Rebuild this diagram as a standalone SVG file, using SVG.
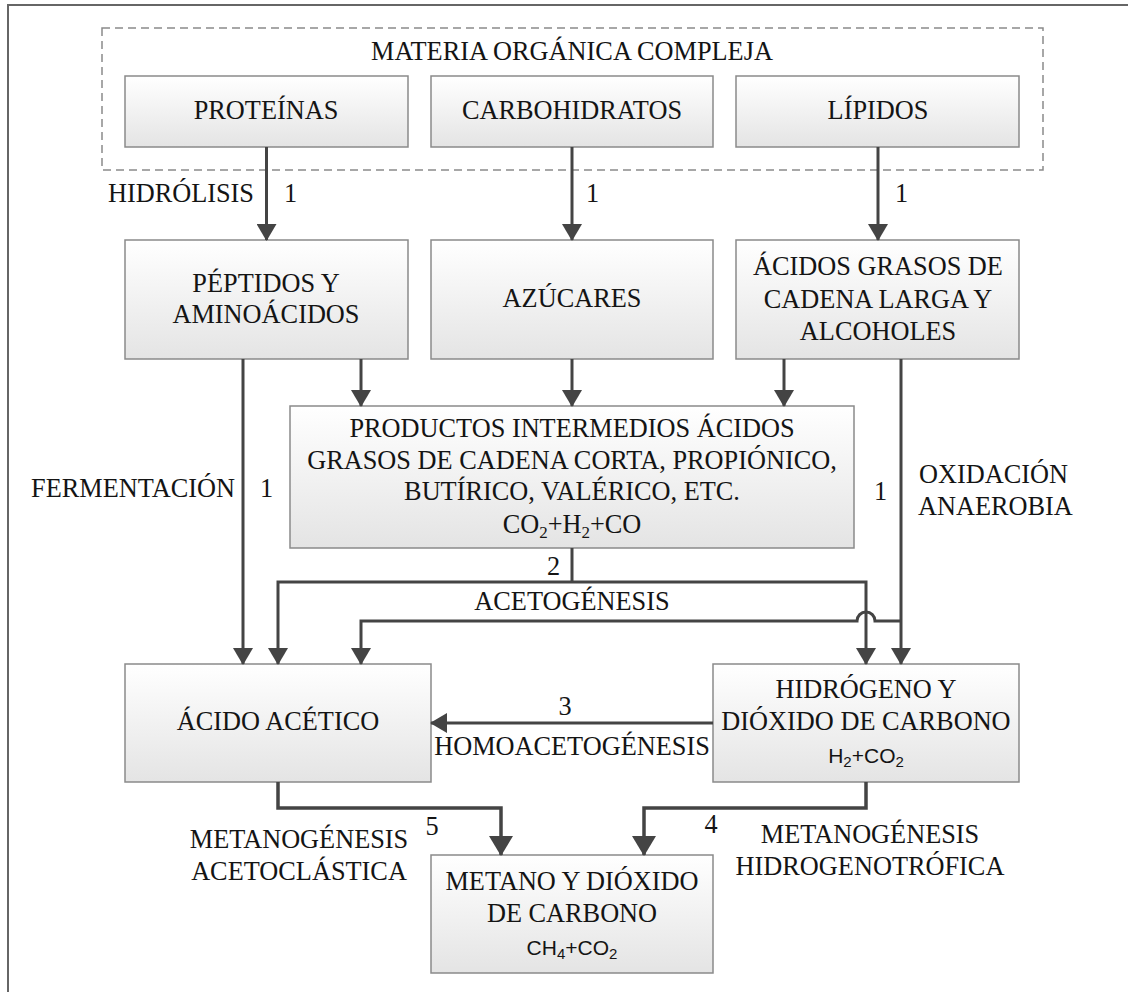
<svg xmlns="http://www.w3.org/2000/svg" width="1128" height="992" viewBox="0 0 1128 992">
  <defs>
    <linearGradient id="boxFill" x1="0" y1="0" x2="0" y2="1">
      <stop offset="0" stop-color="#ffffff"/>
      <stop offset="1" stop-color="#e4e4e4"/>
    </linearGradient>
    <marker id="ah" markerUnits="userSpaceOnUse" markerWidth="17" markerHeight="20" viewBox="0 0 17 20" refX="16" refY="10" orient="auto">
      <path d="M0,0 L17,10 L0,20 Z" fill="#444"/>
    </marker>
    <marker id="ahBig" markerUnits="userSpaceOnUse" markerWidth="20" markerHeight="24" viewBox="0 0 20 24" refX="19" refY="12" orient="auto">
      <path d="M0,0 L20,12 L0,24 Z" fill="#444"/>
    </marker>
    <style>
      .box { fill: url(#boxFill); stroke: #8a8a8a; stroke-width: 1.5; }
      .t { font-family: "Liberation Serif", "Times New Roman", serif; font-size: 26.3px; fill: #141414; }
      .c { text-anchor: middle; }
      .e { text-anchor: end; }
      .f { font-family: "Liberation Sans", Arial, sans-serif; font-size: 21px; fill: #141414; text-anchor: middle; }
      .w { fill: none; stroke: #444; stroke-width: 3; }
      .wb { fill: none; stroke: #444; stroke-width: 3.5; }
      .a { marker-end: url(#ah); }
      .ab { marker-end: url(#ahBig); }
    </style>
  </defs>

  <rect width="1128" height="992" fill="#ffffff"/>

  <!-- page frame -->
  <path d="M8,992 V5 H1128" fill="none" stroke="#666" stroke-width="2"/>

  <!-- group: complex organic matter -->
  <g id="materia-organica">
    <rect x="102" y="28" width="941" height="142" fill="none" stroke="#8a8a8a" stroke-width="1.5" stroke-dasharray="8,5"/>
    <text class="t c" x="572" y="60">MATERIA ORGÁNICA COMPLEJA</text>
  </g>

  <g id="proteinas">
    <rect class="box" x="125" y="76" width="283" height="71"/>
    <text class="t c" x="266" y="119">PROTEÍNAS</text>
  </g>
  <g id="carbohidratos">
    <rect class="box" x="431" y="76" width="282" height="71"/>
    <text class="t c" x="572" y="119">CARBOHIDRATOS</text>
  </g>
  <g id="lipidos">
    <rect class="box" x="736" y="76" width="283" height="71"/>
    <text class="t c" x="878" y="119">LÍPIDOS</text>
  </g>

  <g id="peptidos">
    <rect class="box" x="125" y="240" width="283" height="119"/>
    <text class="t c" x="266" y="292">PÉPTIDOS Y</text>
    <text class="t c" x="266" y="323">AMINOÁCIDOS</text>
  </g>
  <g id="azucares">
    <rect class="box" x="431" y="240" width="282" height="119"/>
    <text class="t c" x="572" y="307">AZÚCARES</text>
  </g>
  <g id="acidos-grasos">
    <rect class="box" x="736" y="240" width="283" height="119"/>
    <text class="t c" x="878" y="275">ÁCIDOS GRASOS DE</text>
    <text class="t c" x="878" y="308">CADENA LARGA Y</text>
    <text class="t c" x="878" y="340">ALCOHOLES</text>
  </g>

  <g id="productos-intermedios">
    <rect class="box" x="290" y="406" width="564" height="142"/>
    <text class="t c" x="572" y="437">PRODUCTOS INTERMEDIOS ÁCIDOS</text>
    <text class="t c" x="572" y="469">GRASOS DE CADENA CORTA, PROPIÓNICO,</text>
    <text class="t c" x="572" y="500">BUTÍRICO, VALÉRICO, ETC.</text>
    <text class="t c" x="572" y="533">CO<tspan font-size="17" dy="5">2</tspan><tspan dy="-5">+H</tspan><tspan font-size="17" dy="5">2</tspan><tspan dy="-5">+CO</tspan></text>
  </g>

  <g id="acido-acetico">
    <rect class="box" x="125" y="664" width="306" height="118"/>
    <text class="t c" x="278" y="730">ÁCIDO ACÉTICO</text>
  </g>
  <g id="hidrogeno">
    <rect class="box" x="713" y="664" width="306" height="118"/>
    <text class="t c" x="866" y="698">HIDRÓGENO Y</text>
    <text class="t c" x="866" y="730">DIÓXIDO DE CARBONO</text>
    <text class="f" x="866" y="763">H<tspan font-size="15" dy="4">2</tspan><tspan dy="-4">+CO</tspan><tspan font-size="15" dy="4">2</tspan></text>
  </g>
  <g id="metano">
    <rect class="box" x="431" y="855" width="282" height="118"/>
    <text class="t c" x="572" y="890">METANO Y DIÓXIDO</text>
    <text class="t c" x="572" y="922">DE CARBONO</text>
    <text class="f" x="572" y="955">CH<tspan font-size="15" dy="4">4</tspan><tspan dy="-4">+CO</tspan><tspan font-size="15" dy="4">2</tspan></text>
  </g>

  <!-- connectors -->
  <g id="connectors">
    <!-- hydrolysis -->
    <path class="w a" d="M266.5,147 V240"/>
    <path class="w a" d="M572,147 V240"/>
    <path class="w a" d="M878,147 V240"/>
    <!-- into the intermediate products -->
    <path class="w a" d="M361,359 V406"/>
    <path class="w a" d="M572,359 V406"/>
    <path class="w a" d="M784,359 V406"/>
    <!-- fermentation straight to acetic acid -->
    <path class="w a" d="M243,359 V664"/>
    <!-- acetogenesis -->
    <path class="w" d="M572,548 V582"/>
    <path class="w a" d="M572,582 H278 V664"/>
    <path class="w a" d="M572,582 H866 V664"/>
    <!-- anaerobic oxidation, hopping over the acetogenesis branch -->
    <path class="w a" d="M901,359 V664"/>
    <path class="w a" d="M901,621 H875 A9,9 0 0 0 857,621 H361 V664"/>
    <!-- homoacetogenesis -->
    <path class="w a" d="M713,723 H431"/>
    <!-- methanogenesis -->
    <path class="wb ab" d="M278,782 V808 H501 V855"/>
    <path class="wb ab" d="M866,782 V808 H644 V855"/>
  </g>

  <!-- process labels -->
  <g id="labels">
    <text class="t e" x="254" y="202">HIDRÓLISIS</text>
    <text class="t" x="284" y="202">1</text>
    <text class="t" x="586" y="202">1</text>
    <text class="t" x="895" y="202">1</text>
    <text class="t e" x="235" y="497">FERMENTACIÓN</text>
    <text class="t" x="260" y="497">1</text>
    <text class="t" x="874" y="500">1</text>
    <text class="t" x="919" y="483">OXIDACIÓN</text>
    <text class="t" x="918" y="515">ANAEROBIA</text>
    <text class="t" x="547" y="575">2</text>
    <text class="t c" x="572" y="610">ACETOGÉNESIS</text>
    <text class="t c" x="565" y="715">3</text>
    <text class="t c" x="572" y="755">HOMOACETOGÉNESIS</text>
    <text class="t c" x="432" y="835">5</text>
    <text class="t c" x="711" y="833">4</text>
    <text class="t c" x="299" y="848">METANOGÉNESIS</text>
    <text class="t c" x="299" y="880">ACETOCLÁSTICA</text>
    <text class="t c" x="870" y="843">METANOGÉNESIS</text>
    <text class="t c" x="870" y="875">HIDROGENOTRÓFICA</text>
  </g>
</svg>
